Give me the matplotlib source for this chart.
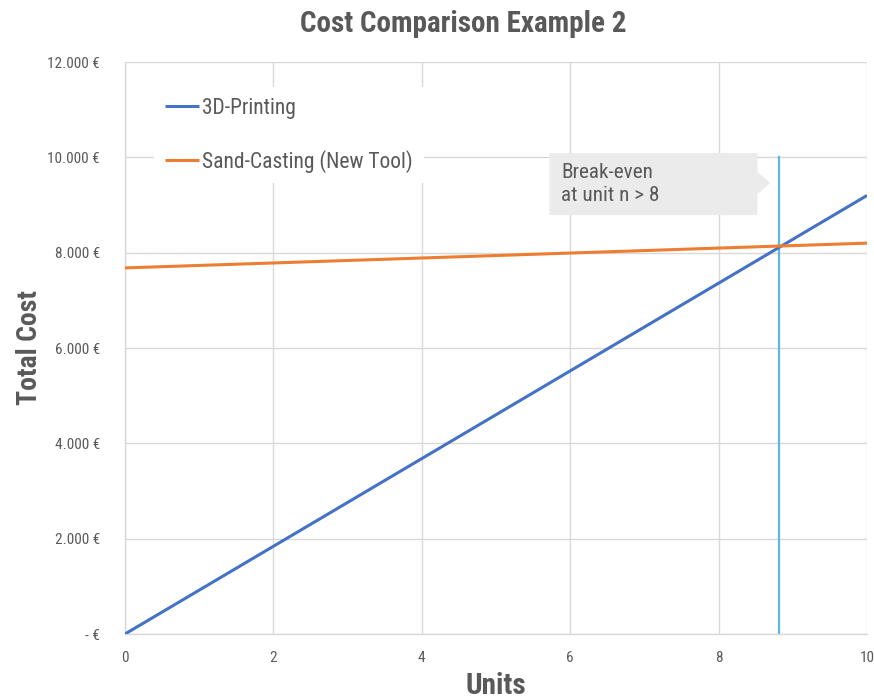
import matplotlib
matplotlib.use("Agg")
import matplotlib.pyplot as plt
from matplotlib import font_manager
from matplotlib.patches import Polygon
from matplotlib.ticker import FuncFormatter

# ---- data -----------------------------------------------------------------
units = [0, 1, 2, 3, 4, 5, 6, 7, 8, 9, 10]
cost_3d_printing = [0, 920, 1840, 2760, 3680, 4600, 5520, 6440, 7360, 8280, 9200]
cost_sand_casting = [7680, 7732, 7784, 7836, 7888, 7940, 7992, 8044, 8096, 8148, 8200]
break_even_unit = 8.82
series_labels = ["3D-Printing", "Sand-Casting (New Tool)"]
x_ticks = [0, 2, 4, 6, 8, 10]
y_ticks = [0, 2000, 4000, 6000, 8000, 10000, 12000]

# ---- fonts ----------------------------------------------------------------
available = {f.name for f in font_manager.fontManager.ttflist}
base_font = "Roboto Condensed" if "Roboto Condensed" in available else "Roboto"
condensed = base_font == "Roboto Condensed"
plt.rcParams["font.family"] = [base_font, "DejaVu Sans"]

k = 1.0 if condensed else 0.85  # narrower sizes when only the wide face exists

TEXT = "#595959"
GRID = "#D9D9D9"
BLUE = "#4472C4"
ORANGE = "#ED7D31"
VLINE = "#5BB8E8"

fig = plt.figure(figsize=(8.74, 7.0), dpi=100)
ax = fig.add_axes([125 / 874, 1 - 634 / 700, 742 / 874, 572 / 700])

ax.plot(units, cost_3d_printing, color=BLUE, lw=2.2, label=series_labels[0],
        zorder=3, solid_capstyle="butt")
ax.plot(units, cost_sand_casting, color=ORANGE, lw=2.2, label=series_labels[1],
        zorder=3, solid_capstyle="butt")
ax.axvline(break_even_unit, ymin=0, ymax=10000 / 12000, color=VLINE, lw=1.6, zorder=2)

ax.set_xlim(0, 10)
ax.set_ylim(0, 12000)
ax.set_xticks(x_ticks)
ax.set_yticks(y_ticks)


def euro(v, pos):
    if v == 0:
        return "- €"
    return f"{int(v):,} €".replace(",", ".")


ax.yaxis.set_major_formatter(FuncFormatter(euro))
ax.grid(True, color=GRID, lw=1.0, zorder=0)
ax.set_axisbelow(True)
for side in ("top", "right"):
    ax.spines[side].set_visible(False)
for side in ("left", "bottom"):
    ax.spines[side].set_color(GRID)
    ax.spines[side].set_linewidth(1.0)
ax.tick_params(axis="both", length=0, colors=TEXT, labelsize=11 * k)
ax.tick_params(axis="y", pad=18)
ax.tick_params(axis="x", pad=12)

ax.set_xlabel("Units", fontsize=21 * k, fontweight="bold", color=TEXT, labelpad=5)
ax.set_ylabel("Total Cost", fontsize=20 * k, fontweight="bold", color=TEXT, labelpad=3)
fig.suptitle("Cost Comparison Example 2", x=463 / 874, y=0.985,
             fontsize=21 * k, fontweight="bold", color=TEXT)

leg = ax.legend(loc="upper left", bbox_to_anchor=(18 / 742, 1 - 14 / 572),
                frameon=True, facecolor="white", edgecolor="none", framealpha=1,
                fontsize=15.5 * k, labelcolor=TEXT, handlelength=1.6,
                handletextpad=0.15, labelspacing=1.45, borderpad=0.5,
                fancybox=False)
leg.set_zorder(4)

# callout box next to the break-even line
px_x = 10 / 742   # data units per pixel
px_y = 12000 / 572
right = break_even_unit - 22 * px_x
left = right - 208 * px_x
top = 10090
bottom = top - 62 * px_y
tip_y = top - 30 * px_y
callout = Polygon(
    [(left, bottom), (left, top), (right, top), (right, tip_y + 11 * px_y),
     (right + 13 * px_x, tip_y), (right, tip_y - 11 * px_y), (right, bottom)],
    closed=True, facecolor="#EBEBEB", edgecolor="none", zorder=4)
ax.add_patch(callout)
ax.text(left + 12 * px_x, (top + bottom) / 2, "Break-even\nat unit n > 8",
        ha="left", va="center", fontsize=15.3 * k, color=TEXT, linespacing=1.3,
        zorder=5)

fig.savefig("out.png", dpi=100)
